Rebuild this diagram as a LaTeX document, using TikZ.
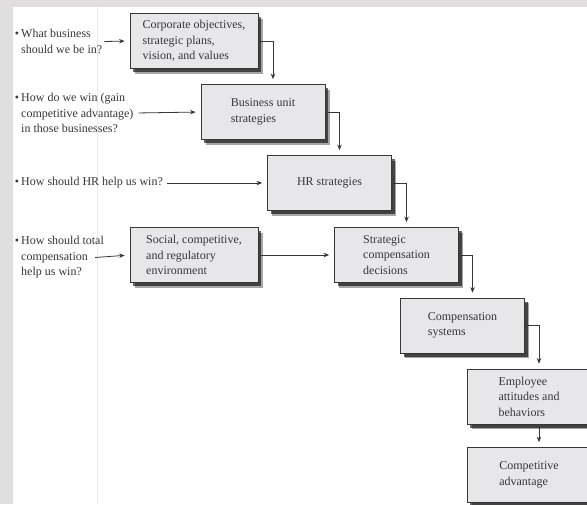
\documentclass[tikz,border=0pt]{standalone}
\usepackage{fontspec}
\setmainfont{Liberation Serif}
\usetikzlibrary{arrows.meta,shadows}
\definecolor{paper}{RGB}{224,222,223}
\definecolor{rule}{RGB}{236,235,236}
\definecolor{boxgray}{RGB}{231,231,233}
\definecolor{ink}{RGB}{55,55,58}
\newcommand{\bul}{\llap{\textbullet\hspace{2pt}}}
\tikzset{
  >={Stealth[length=5.5pt,width=4.5pt]},
  box/.style={draw=ink,fill=boxgray,line width=0.8pt,text=ink,align=left,
    minimum width=124pt,minimum height=55pt,inner sep=0pt,
    font=\fontsize{12}{15.5}\selectfont,
    drop shadow={shadow xshift=4.5pt,shadow yshift=-5pt,opacity=0.35,fill=black},
    drop shadow={shadow xshift=3pt,shadow yshift=-3.5pt,opacity=0.6,fill=black}},
  ask/.style={anchor=west,align=left,inner sep=2pt,text=ink,
    font=\fontsize{12}{15.5}\selectfont},
  flow/.style={->,draw=ink,line width=0.8pt,shorten >=5pt},
}
\begin{document}
\begin{tikzpicture}[x=1pt,y=-1pt]
  \useasboundingbox (0,0) rectangle (587,504);
  \clip (0,0) rectangle (587,504);
  \fill[paper] (0,0) rectangle (587,504);
  \fill[white] (13,7) rectangle (587,504);
  \draw[rule] (97,7) -- (97,504);
  % questions
  \node[ask] (q1) at (19,41.5) {\bul What business\\should we be in?};
  \node[ask] (q2) at (19,113) {\bul How do we win (gain\\competitive advantage)\\in those businesses?};
  \node[ask] (q3) at (19,183) {\bul How should HR help us win?};
  \node[ask] (q4) at (19,257.5) {\bul How should total\\compensation\\help us win?};
  % boxes
  \node[box,minimum width=128pt] (corp) at (194,41) {Corporate objectives,\\strategic plans,\\vision, and values};
  \node[box] (unit) at (263,112) {Business unit\\strategies};
  \node[box] (hrs) at (329.5,183) {HR strategies};
  \node[box,minimum width=128pt] (env) at (194,255) {Social, competitive,\\and regulatory\\environment};
  \node[box] (scd) at (396.5,255) {Strategic\\compensation\\decisions};
  \node[box] (csys) at (462.5,325.5) {Compensation\\systems};
  \node[box] (emp) at (529,396.5) {Employee\\attitudes and\\behaviors};
  \node[box] (adv) at (529,475) {Competitive\\advantage};
  % connectors
  \draw[flow] (q1.east) -- (corp.west);
  \draw[flow,shorten <=3pt] (q2.east) -- (unit.west);
  \draw[flow,shorten <=2pt] (q3.east) -- (hrs.west);
  \draw[flow] ([xshift=-11pt]q4.east) -- (env.west);
  \draw[flow] (env.east) -- (scd.west);
  \foreach \a/\b in {corp/unit,unit/hrs,hrs/scd,scd/csys,csys/emp}
    \draw[flow] (\a.east) -| ([xshift=10pt]\b.north);
  \draw[flow] ([xshift=10pt]emp.south) -- ([xshift=10pt]adv.north);
\end{tikzpicture}
\end{document}
